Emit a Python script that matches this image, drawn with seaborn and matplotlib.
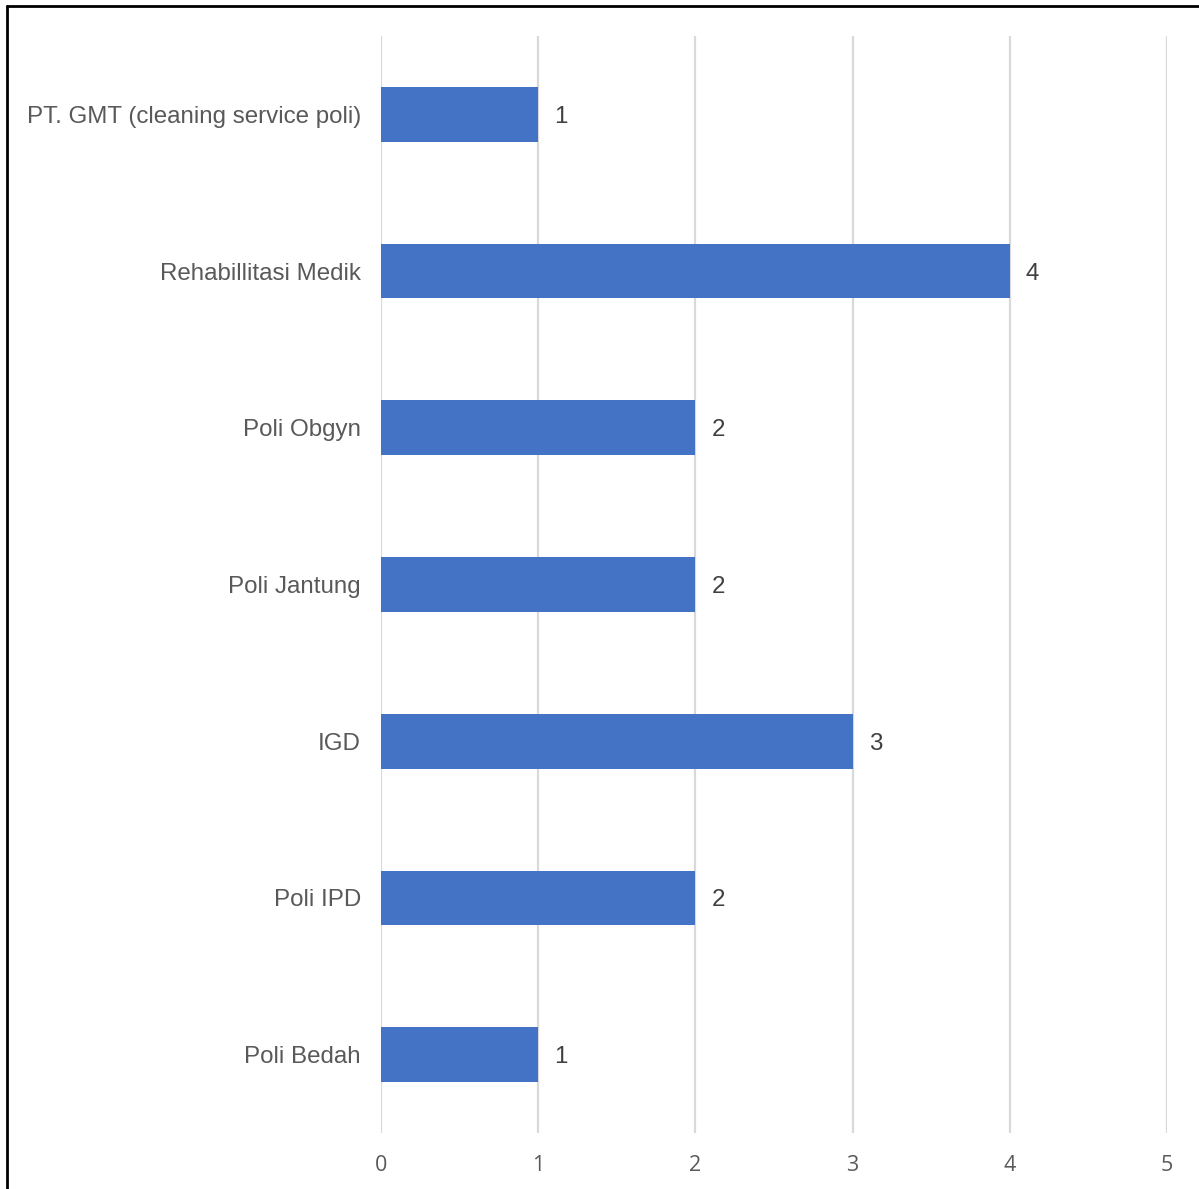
import matplotlib
matplotlib.use("Agg")
import matplotlib.pyplot as plt
import seaborn as sns
import pandas as pd
from matplotlib.lines import Line2D

categories = ["PT. GMT (cleaning service poli)", "Rehabillitasi Medik", "Poli Obgyn",
              "Poli Jantung", "IGD", "Poli IPD", "Poli Bedah"]
values = [1, 4, 2, 2, 3, 2, 1]
x_ticks = [0, 1, 2, 3, 4, 5]

df = pd.DataFrame({"cat": categories, "val": values})

sns.set_theme(style="white")
plt.rcParams['font.family'] = ['Liberation Sans', 'DejaVu Sans']

W, H = 1199, 1189
fig = plt.figure(figsize=(W / 100, H / 100), dpi=100)
ax = fig.add_axes([381 / W, 1 - 1133 / H, (1167 - 381) / W, (1133 - 36) / H])

sns.barplot(data=df, x="val", y="cat", color="#4472C4", saturation=1, width=0.35,
            linewidth=0, ax=ax, zorder=3)

ax.set_xlim(0, 5)
ax.set_ylim(6.5, -0.5)
ax.set_xticks(x_ticks)
ax.set_xticklabels([str(t) for t in x_ticks], family=['Open Sans', 'DejaVu Sans'],
                   fontsize=15.5, color="#595959")
ax.tick_params(axis='x', length=0, pad=16)
ax.tick_params(axis='y', length=0, pad=14.5, labelsize=17.4, labelcolor="#595959")
ax.xaxis.grid(True, color="#D9D9D9", linewidth=1.6, zorder=0)
ax.yaxis.grid(False)
for s in ax.spines.values():
    s.set_visible(False)
ax.set_xlabel("")
ax.set_ylabel("")

for c in ax.containers:
    texts = ax.bar_label(c, labels=[str(v) for v in values], padding=11.5, fontsize=17.4,
                         color="#404040")
    for t in texts:
        t.set_verticalalignment("center_baseline")

fig.add_artist(Line2D([7 / W, 7 / W], [0, 1 - 6 / H], color="black", linewidth=2,
                      transform=fig.transFigure))
fig.add_artist(Line2D([7 / W, 1], [1 - 6 / H, 1 - 6 / H], color="black", linewidth=2,
                      transform=fig.transFigure))

fig.savefig("out.png", dpi=100, facecolor="white")
